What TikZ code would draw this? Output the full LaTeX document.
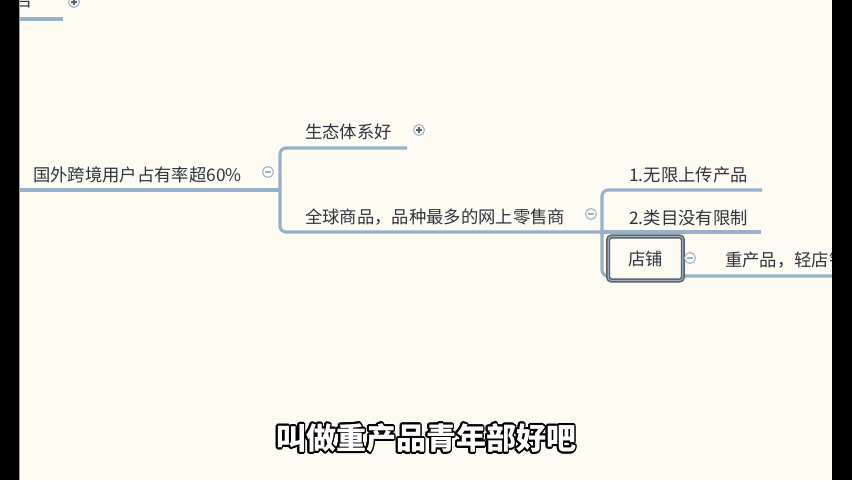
\documentclass[tikz,border=0pt]{standalone}
\usepackage{fontspec}
\setmainfont{Noto Sans CJK SC}
\usepackage{contour}
\usetikzlibrary{positioning}
\contourlength{1.3pt}
\definecolor{paper}{RGB}{254,251,243}
\definecolor{branch}{RGB}{152,177,203}
\definecolor{ink}{RGB}{45,52,62}
\definecolor{selbox}{RGB}{90,92,98}

\begin{document}
\begin{tikzpicture}[x=0.75pt, y=-0.75pt,
    topic/.style={anchor=base west, inner sep=0pt, text=ink, font=\fontsize{13}{15}\selectfont},
    link/.style={branch, line width=2.3pt, rounded corners=4.5pt},
    fold/.style={circle, draw=branch, line width=0.8pt, minimum size=8.2pt, inner sep=0pt, fill=paper},
    foldminus/.style={fold, path picture={\draw[branch, line width=0.8pt] ([xshift=-2.2pt]path picture bounding box.center) -- ([xshift=2.2pt]path picture bounding box.center);}},
    foldplus/.style={fold, path picture={\draw[ink!80, line width=0.8pt] ([xshift=-2.2pt]path picture bounding box.center) -- ([xshift=2.2pt]path picture bounding box.center) ([yshift=-2.2pt]path picture bounding box.center) -- ([yshift=2.2pt]path picture bounding box.center);}},
    shopbox/.style={draw=selbox, double=branch, double distance=0.9pt, line width=1.1pt, rounded corners=2.5pt, fill=paper, minimum width=56pt, minimum height=33pt, inner sep=0pt, text=ink, font=\fontsize{13}{15}\selectfont}]
    \useasboundingbox (0,0) rectangle (852,480);
    \clip (0,0) rectangle (852,480);
    \fill [paper] (0,0) rectangle (852,480);

    % upper topic, cut off by the top edge
    \node [topic] (upper) at (15,6) {告};
    \coordinate (upperend) at (63,19);
    \draw [link] (19,19) -- (upperend);
    \node [foldplus] (upperfold) at (74,2) {};

    % root topic
    \node [topic] (root) at (33,181) {国外跨境用户占有率超60\%};
    \node [foldminus] (rootfold) at (268,172) {};
    \coordinate (rootstart) at (19,190);
    \coordinate (rootjoin) at (280,190);
    \draw [link] (rootstart) -- (rootjoin);

    % second level
    \node [topic] (eco) at (305,138) {生态体系好};
    \node [foldplus] (ecofold) at (419,130) {};
    \node [topic] (goods) at (305,223) {全球商品，品种最多的网上零售商};
    \node [foldminus] (goodsfold) at (591,214) {};
    \coordinate (ecoend) at (407,148);
    \coordinate (goodsjoin) at (602,232);
    \draw [link] (ecoend) -- (280,148) -- (280,232) -- (goodsjoin);

    % third level
    \node [topic] (upload) at (629,181) {1.无限上传产品};
    \node [topic] (category) at (629,224) {2.类目没有限制};
    \coordinate (uploadend) at (762,190);
    \coordinate (categoryend) at (761,232);
    \coordinate (shopend) at (840,276);
    \draw [link] (uploadend) -- (602,190) -- (602,276) -- (shopend);
    \draw [link] (goodsjoin) -- (categoryend);
    \node [shopbox] (shop) at (645.5,258.5) {店铺};
    \node [foldminus] (shopfold) at (690,258) {};
    \node [topic] (heavy) at (725,266) {重产品，轻店铺};

    % screen borders
    \fill (0,0) rectangle (19,480);
    \fill (832,0) rectangle (852,480);
    \draw [branch!70!gray, line width=0.8pt] (19.5,0) -- (19.5,480);

    % subtitle
    \node [font=\fontsize{22.5}{26}\selectfont\bfseries] (caption) at (426,439) {\contour{black}{\textcolor{white}{叫做重产品青年部好吧}}};
\end{tikzpicture}
\end{document}
